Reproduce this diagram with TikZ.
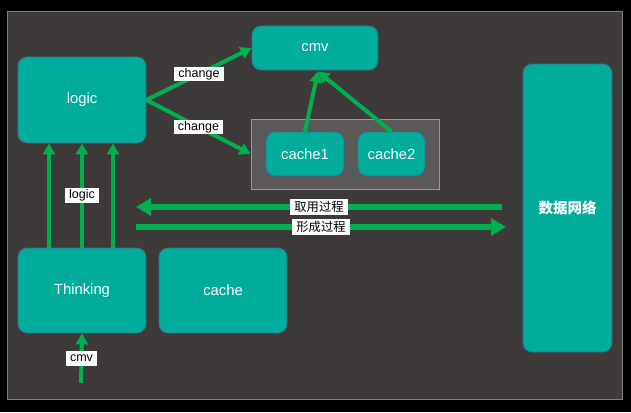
\documentclass[tikz,border=0pt]{standalone}
\usepackage{fontspec}
\setmainfont{Liberation Sans}
\newfontfamily\cjk{Noto Sans CJK SC}
\usetikzlibrary{arrows.meta, calc}
\definecolor{panel}{HTML}{3E3A3A}
\definecolor{groupgray}{HTML}{5A5858}
\definecolor{boxteal}{HTML}{00AD9C}
\definecolor{boxedge}{HTML}{3A6C8C}
\definecolor{arrowgreen}{HTML}{00B050}

\begin{document}
\begin{tikzpicture}[x=1pt, y=-1pt,
  box/.style={draw=boxedge, line width=0.8pt, fill=boxteal, rounded corners=9pt,
    text=white, font=\fontsize{14.8}{17}\selectfont, inner sep=0pt},
  tag/.style={fill=white, text=black, font=\fontsize{12.5}{14}\selectfont,
    inner xsep=4pt, inner ysep=1.3pt, text height=9.2pt, text depth=2.8pt},
  cjktag/.style={tag, font=\fontsize{12.3}{14}\selectfont\cjk, text height=10.5pt, text depth=2pt},
  thin/.style={draw=arrowgreen, line width=4pt, -{Triangle[length=11pt,width=12pt]}},
  thick/.style={draw=arrowgreen, line width=6.5pt, -{Triangle[length=15pt,width=17pt]}}]
\useasboundingbox (0,0) rectangle (631,412);

%the background
\fill [black] (0,0) rectangle (631,412);
\draw [fill=panel, draw=gray, line width=0.8pt] (7.5,11.5) rectangle (622.5,399.5);

%the boxes
\node [fill=groupgray, draw=gray!80, line width=0.8pt, minimum width=188pt, minimum height=70pt] (grp) at (345,154) {};
\node [box, minimum width=128pt, minimum height=86pt] (logic) at (82,100) {logic};
\node [box, minimum width=126pt, minimum height=44pt] (cmv) at (315,48) {cmv};
\node [box, minimum width=78pt, minimum height=44pt] (cache1) at (305,154) {cache1};
\node [box, minimum width=67pt, minimum height=44pt] (cache2) at (391.5,154) {cache2};
\node [box, minimum width=128pt, minimum height=85pt] (think) at (82,290.5) {Thinking};
\node [box, minimum width=128pt, minimum height=85pt] (cache) at (223,290.5) {cache};
\node [box, minimum width=89pt, minimum height=288pt, font=\fontsize{14.5}{17}\selectfont\cjk\bfseries] (net) at (567.5,208) {数据网络};

%the free ends
\coordinate (cmvin) at ($(cmv.south)+(3,1)$);
\coordinate (cmvsrc) at (81,383);
\coordinate (getR) at (502,207);
\coordinate (getL) at (136,207);
\coordinate (mkL) at (136,227);
\coordinate (mkR) at (506,227);

%the arrows
\draw [thin] (logic.east) -- (cmv.west) node [tag, midway] {change};
\draw [thin] (logic.east) -- (grp.west) node [tag, midway] {change};
\draw [thin] (cache1.north) -- (cmvin);
\draw [thin] (cache2.north) -- (cmvin);

\draw [thin] ([xshift=-33pt]think.north) -- ([xshift=-33pt]logic.south);
\draw [thin] (think.north) -- (logic.south) node [tag, midway] {logic};
\draw [thin] ([xshift=31pt]think.north) -- ([xshift=31pt]logic.south);
\draw [thin] (cmvsrc) -- (think.south) node [tag, midway] {cmv};

\draw [thick] (getR) -- (getL) node [cjktag, midway] {取用过程};
\draw [thick] (mkL) -- (mkR) node [cjktag, midway] {形成过程};
\end{tikzpicture}
\end{document}
